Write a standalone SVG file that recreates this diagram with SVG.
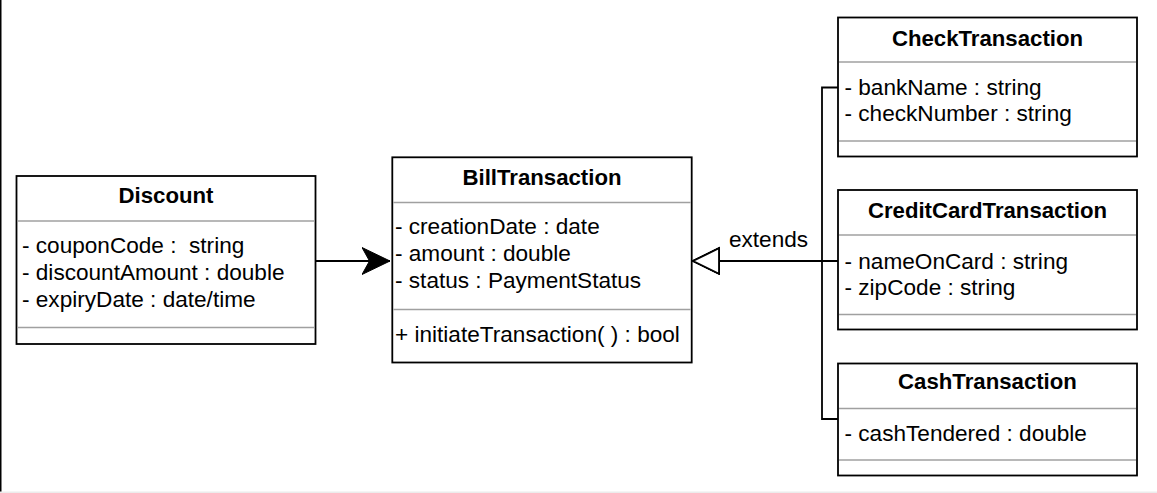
<svg xmlns="http://www.w3.org/2000/svg" width="1157" height="493" viewBox="0 0 1157 493">
<style>
.box{fill:#fff;stroke:#000;stroke-width:1.8}
.div{stroke:#a0a0a0;stroke-width:1.6;fill:none}
.t{font-family:"Liberation Sans",Arial,Helvetica,sans-serif;font-size:22.6px;fill:#000}
.h{font-weight:bold;text-anchor:middle;font-size:22.2px}
.edge{fill:none;stroke:#000;stroke-width:1.8}
</style>
<defs>
<marker id="filled" markerUnits="userSpaceOnUse" markerWidth="30" markerHeight="30" viewBox="0 0 30 30" refX="28" refY="14" orient="auto">
<path d="M28,14 L0,0.5 L7.5,14 L0,27.5 Z" fill="#000" stroke="#000" stroke-width="1"/>
</marker>
<marker id="hollow" markerUnits="userSpaceOnUse" markerWidth="30" markerHeight="30" viewBox="0 0 30 30" refX="27" refY="14" orient="auto">
<path d="M27,14 L1,1.3 L1,26.7 Z" fill="#fff" stroke="#000" stroke-width="1.8"/>
</marker>
</defs>
<rect x="0" y="0" width="1157" height="493" fill="#fff"/>
<line x1="0.75" y1="0" x2="0.75" y2="493" stroke="#000" stroke-width="1.5"/>
<rect x="0" y="491.5" width="1157" height="1.5" fill="#ececec"/>

<g id="connectors">
<path class="edge" d="M315.5,261 L390,261" marker-end="url(#filled)"/>
<path class="edge" d="M838,87.5 L822,87.5 L822,261 L693,261" marker-end="url(#hollow)"/>
<path class="edge" d="M838,261 L693,261" marker-end="url(#hollow)"/>
<path class="edge" d="M838,419 L822,419 L822,261 L693,261" marker-end="url(#hollow)"/>
<text class="t" x="768.5" y="247" text-anchor="middle">extends</text>
</g>

<g id="Discount">
<rect class="box" x="16.5" y="176" width="299" height="168"/>
<line class="div" x1="17.5" y1="221" x2="314.5" y2="221"/>
<line class="div" x1="17.5" y1="327.5" x2="314.5" y2="327.5"/>
<text class="t h" x="166" y="203">Discount</text>
<text class="t" x="22" y="253" xml:space="preserve">- couponCode :  string</text>
<text class="t" x="22" y="280">- discountAmount : double</text>
<text class="t" x="22" y="306.5">- expiryDate : date/time</text>
</g>

<g id="BillTransaction">
<rect class="box" x="392.3" y="157.3" width="299.4" height="205.2"/>
<line class="div" x1="393.3" y1="202.5" x2="690.7" y2="202.5"/>
<line class="div" x1="393.3" y1="309.5" x2="690.7" y2="309.5"/>
<text class="t h" x="542" y="185">BillTransaction</text>
<text class="t" x="395" y="234">- creationDate : date</text>
<text class="t" x="395" y="261">- amount : double</text>
<text class="t" x="395" y="287.5">- status : PaymentStatus</text>
<text class="t" x="395" y="342">+ initiateTransaction( ) : bool</text>
</g>

<g id="CheckTransaction">
<rect class="box" x="838" y="17.5" width="299" height="139"/>
<line class="div" x1="839" y1="62" x2="1136" y2="62"/>
<line class="div" x1="839" y1="141" x2="1136" y2="141"/>
<text class="t h" x="987.5" y="45.5">CheckTransaction</text>
<text class="t" x="844.5" y="94.5">- bankName : string</text>
<text class="t" x="844.5" y="121">- checkNumber : string</text>
</g>

<g id="CreditCardTransaction">
<rect class="box" x="838" y="190" width="299" height="139.5"/>
<line class="div" x1="839" y1="235" x2="1136" y2="235"/>
<line class="div" x1="839" y1="314.5" x2="1136" y2="314.5"/>
<text class="t h" x="987.5" y="218">CreditCardTransaction</text>
<text class="t" x="844.5" y="268.5">- nameOnCard : string</text>
<text class="t" x="844.5" y="295">- zipCode : string</text>
</g>

<g id="CashTransaction">
<rect class="box" x="838" y="363.5" width="299" height="112"/>
<line class="div" x1="839" y1="408.5" x2="1136" y2="408.5"/>
<line class="div" x1="839" y1="460" x2="1136" y2="460"/>
<text class="t h" x="987.5" y="389">CashTransaction</text>
<text class="t" x="844.5" y="440.5">- cashTendered : double</text>
</g>
</svg>
